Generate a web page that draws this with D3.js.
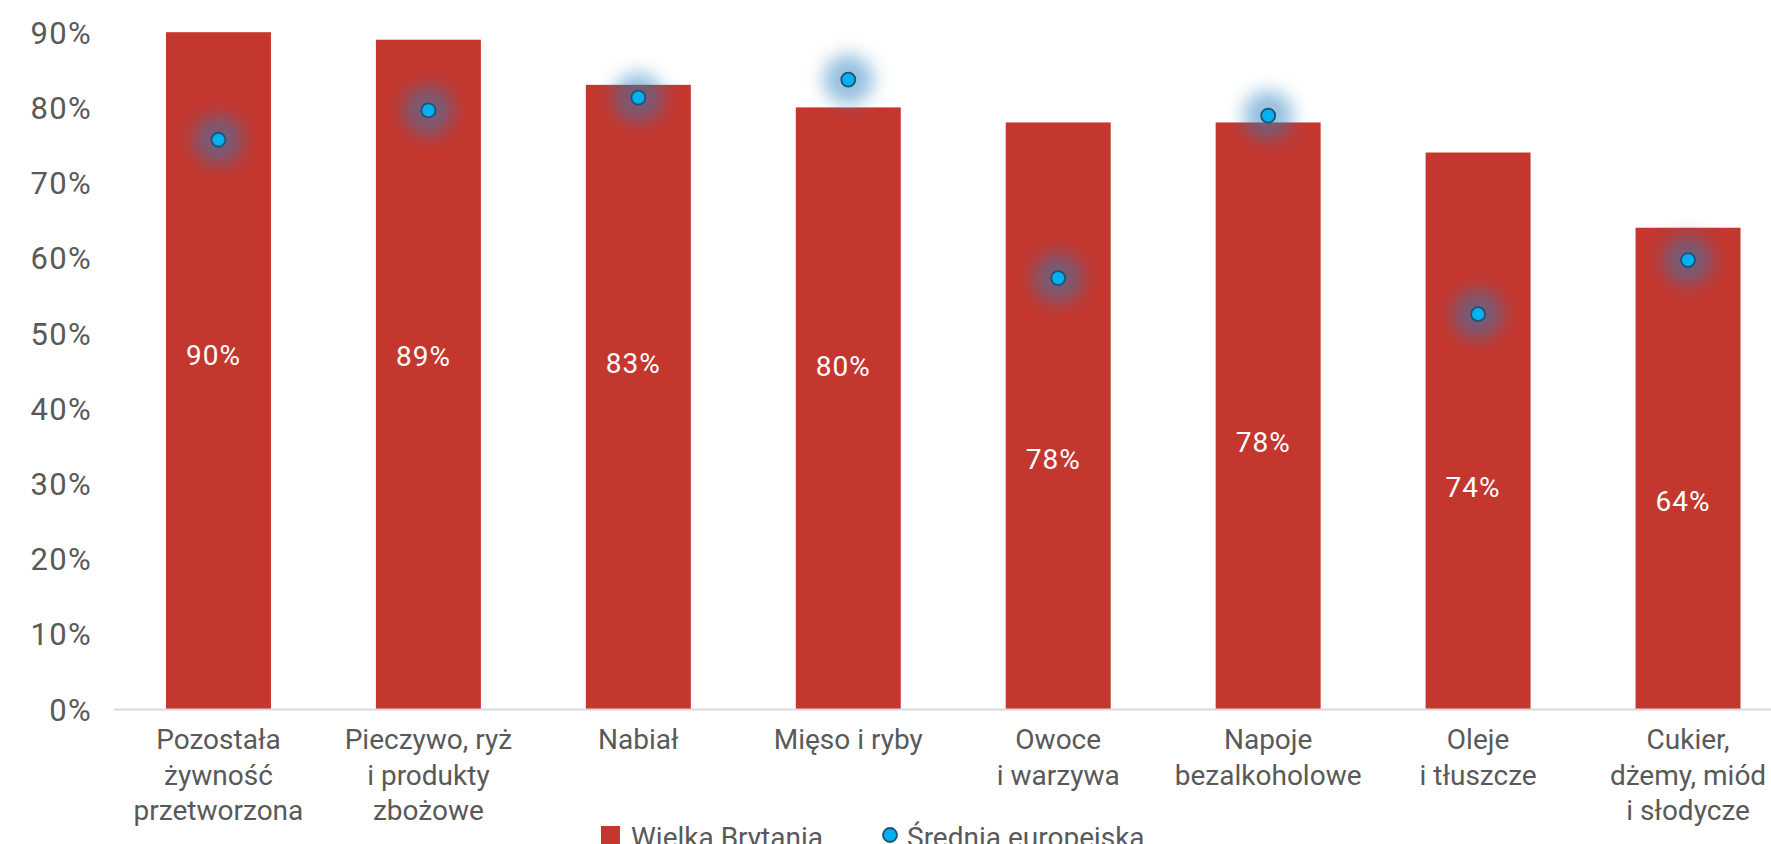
<!DOCTYPE html>
<html lang="pl">
<head>
<meta charset="utf-8">
<script src="https://cdn.jsdelivr.net/npm/d3@7/dist/d3.min.js"></script>
<style>
  html, body { margin: 0; padding: 0; background: #ffffff; }
  svg { display: block; }
  text { font-family: Roboto, "Noto Sans", sans-serif; }
</style>
</head>
<body>
<svg id="chart" width="1771" height="844"></svg>
<script>
// Product categories (multi-line labels split on \n)
const categories = [
  "Pozostała\nżywność\nprzetworzona",
  "Pieczywo, ryż\ni produkty\nzbożowe",
  "Nabiał",
  "Mięso i ryby",
  "Owoce\ni warzywa",
  "Napoje\nbezalkoholowe",
  "Oleje\ni tłuszcze",
  "Cukier,\ndżemy, miód\ni słodycze"
];

// Wielka Brytania (bars)
const ukValues = [0.90, 0.89, 0.83, 0.80, 0.78, 0.78, 0.74, 0.64];

// Średnia europejska (points)
const euValues = [0.757, 0.796, 0.813, 0.837, 0.573, 0.789, 0.525, 0.597];

// Y axis ticks
const yTicks = [0, 0.1, 0.2, 0.3, 0.4, 0.5, 0.6, 0.7, 0.8, 0.9];

const seriesNames = ["Wielka Brytania", "Średnia europejska"];

// Vertical anchor of each bar's value label, in axis units
const labelAnchor = [0.471, 0.469, 0.460, 0.456, 0.332, 0.355, 0.295, 0.277];

const W = 1771, H = 844;
const baseY = 709;
const pxPerUnit = 752;

const barColor = "#c4372f";
const dotFill = "#00b0f0";
const dotStroke = "#1f5273";
const textColor = "#595959";

const svg = d3.select("#chart");

const defs = svg.append("defs");
defs.append("filter")
  .attr("id", "glow")
  .attr("x", "-100%").attr("y", "-100%")
  .attr("width", "300%").attr("height", "300%")
  .append("feGaussianBlur")
  .attr("stdDeviation", 9);

const x = d3.scaleBand()
  .domain(categories)
  .range([113.5, 1793])
  .paddingInner(0.5)
  .paddingOuter(0.25);

const y = d3.scaleLinear()
  .domain([0, 0.9])
  .range([baseY, baseY - 0.9 * pxPerUnit]);

// Y axis labels (no axis line, no tick marks)
const yAxis = d3.axisLeft(y)
  .tickValues(yTicks)
  .tickFormat(d3.format(".0%"))
  .tickSize(0)
  .tickPadding(0);

const yAxisG = svg.append("g")
  .attr("transform", "translate(92,0)")
  .call(yAxis);
yAxisG.select(".domain").remove();
yAxisG.selectAll("text")
  .attr("fill", textColor)
  .style("font-size", "31px")
  .style("letter-spacing", "1.3px")
  .attr("dy", "0.36em");

// Bars
svg.append("g")
  .selectAll("rect")
  .data(ukValues)
  .join("rect")
  .attr("x", (d, i) => x(categories[i]))
  .attr("width", x.bandwidth())
  .attr("y", d => y(d))
  .attr("height", d => y(0) - y(d))
  .attr("fill", barColor);

// Category axis line
const xAxis = d3.axisBottom(x).tickSize(0).tickFormat("");
const xAxisG = svg.append("g")
  .attr("transform", `translate(0,${baseY})`)
  .call(xAxis);
xAxisG.select(".domain")
  .attr("stroke", "#d9d9d9")
  .attr("stroke-width", 2);

// Category labels
const catG = svg.append("g");
categories.forEach((c, i) => {
  const lines = c.split("\n");
  const t = catG.append("text")
    .attr("x", x(c) + x.bandwidth() / 2)
    .attr("y", baseY + 40)
    .attr("text-anchor", "middle")
    .attr("fill", textColor)
    .style("font-size", "28px");
  lines.forEach((ln, j) => {
    t.append("tspan")
      .attr("x", x(c) + x.bandwidth() / 2)
      .attr("dy", j === 0 ? 0 : 35.5)
      .text(ln);
  });
});

// Bar value labels
svg.append("g")
  .selectAll("text")
  .data(ukValues)
  .join("text")
  .attr("x", (d, i) => x(categories[i]) + x.bandwidth() / 2 - 5)
  .attr("y", (d, i) => y(labelAnchor[i]))
  .attr("dy", "0.36em")
  .attr("text-anchor", "middle")
  .attr("fill", "#ffffff")
  .style("font-size", "28px")
  .style("letter-spacing", "1px")
  .text(d => d3.format(".0%")(d));

// European average points with soft glow
const ptG = svg.append("g");
ptG.selectAll("circle.glow")
  .data(euValues)
  .join("circle")
  .attr("class", "glow")
  .attr("cx", (d, i) => x(categories[i]) + x.bandwidth() / 2)
  .attr("cy", d => y(d))
  .attr("r", 25)
  .attr("fill", "#2a80bd")
  .attr("opacity", 0.5)
  .attr("filter", "url(#glow)");
ptG.selectAll("circle.dot")
  .data(euValues)
  .join("circle")
  .attr("class", "dot")
  .attr("cx", (d, i) => x(categories[i]) + x.bandwidth() / 2)
  .attr("cy", d => y(d))
  .attr("r", 7)
  .attr("fill", dotFill)
  .attr("stroke", dotStroke)
  .attr("stroke-width", 1.8);

// Legend
const lg = svg.append("g");
lg.append("rect")
  .attr("x", 601).attr("y", 826)
  .attr("width", 19).attr("height", 19)
  .attr("fill", barColor);
lg.append("text")
  .attr("x", 631).attr("y", 847)
  .attr("fill", textColor)
  .style("font-size", "28px")
  .text(seriesNames[0]);
lg.append("circle")
  .attr("cx", 890).attr("cy", 835)
  .attr("r", 7)
  .attr("fill", dotFill)
  .attr("stroke", dotStroke)
  .attr("stroke-width", 1.8);
lg.append("text")
  .attr("x", 907).attr("y", 847)
  .attr("fill", textColor)
  .style("font-size", "28px")
  .text(seriesNames[1]);
</script>
</body>
</html>
